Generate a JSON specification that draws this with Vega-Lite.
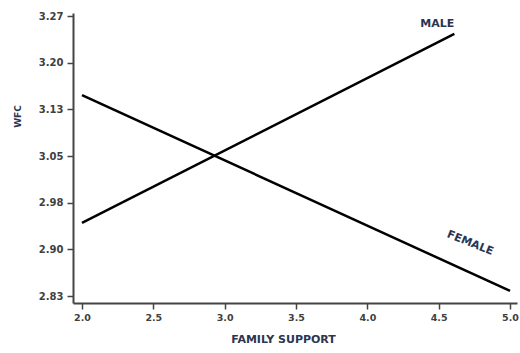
{
  "$schema": "https://vega.github.io/schema/vega-lite/v6.json",
  "width": 444,
  "height": 290,
  "autosize": "none",
  "padding": {"left": 73, "top": 13, "right": 3, "bottom": 50},
  "background": "white",
  "config": {
    "view": {"stroke": null},
    "font": "DejaVu Sans",
    "axis": {
      "grid": false,
      "domainColor": "#444444",
      "domainWidth": 2,
      "tickColor": "#444444",
      "tickWidth": 1.5,
      "tickSize": 6,
      "labelColor": "#404040",
      "labelFont": "DejaVu Sans",
      "labelFontSize": 10,
      "labelFontWeight": "bold",
      "titleColor": "#2b3550",
      "titleFont": "DejaVu Sans",
      "titleFontWeight": "bold"
    }
  },
  "datasets": {
    "lines": [
      {"sex": "MALE", "x": 2.0, "y": 2.945},
      {"sex": "MALE", "x": 4.61, "y": 3.242},
      {"sex": "FEMALE", "x": 2.0, "y": 3.146},
      {"sex": "FEMALE", "x": 5.0, "y": 2.838}
    ],
    "labels": [
      {"text": "MALE", "x": 4.49, "y": 3.258, "angle": 0},
      {"text": "FEMALE", "x": 4.72, "y": 2.913, "angle": 22}
    ]
  },
  "layer": [
    {
      "data": {"name": "lines"},
      "mark": {"type": "line", "color": "black", "strokeWidth": 2.5},
      "encoding": {
        "x": {
          "field": "x",
          "type": "quantitative",
          "scale": {"domain": [1.937, 5.049], "nice": false, "zero": false},
          "axis": {
            "values": [2.0, 2.5, 3.0, 3.5, 4.0, 4.5, 5.0],
            "format": ".1f",
            "title": "FAMILY SUPPORT",
            "titleFontSize": 11,
            "labelFontSize": 9.5,
            "labelPadding": 3,
            "titlePadding": 12,
            "titleX": 210
          }
        },
        "y": {
          "field": "y",
          "type": "quantitative",
          "scale": {"domain": [2.819, 3.275], "nice": false, "zero": false},
          "axis": {
            "values": [2.83, 2.90333, 2.97667, 3.05, 3.12333, 3.19667, 3.27],
            "labelExpr": "['2.83','2.90','2.98','3.05','3.13','3.20','3.27'][round((datum.value - 2.83) / 0.073333)]",
            "title": "WFC",
            "titleFontSize": 9,
            "labelPadding": 4,
            "titlePadding": 16,
            "titleY": 103
          }
        },
        "detail": {"field": "sex"}
      }
    },
    {
      "data": {"name": "labels"},
      "mark": {"type": "text", "font": "DejaVu Sans", "fontWeight": "bold", "fontSize": 11, "color": "#2b3550"},
      "encoding": {
        "x": {"field": "x", "type": "quantitative"},
        "y": {"field": "y", "type": "quantitative"},
        "text": {"field": "text"},
        "angle": {"field": "angle", "type": "quantitative", "scale": null}
      }
    }
  ]
}
